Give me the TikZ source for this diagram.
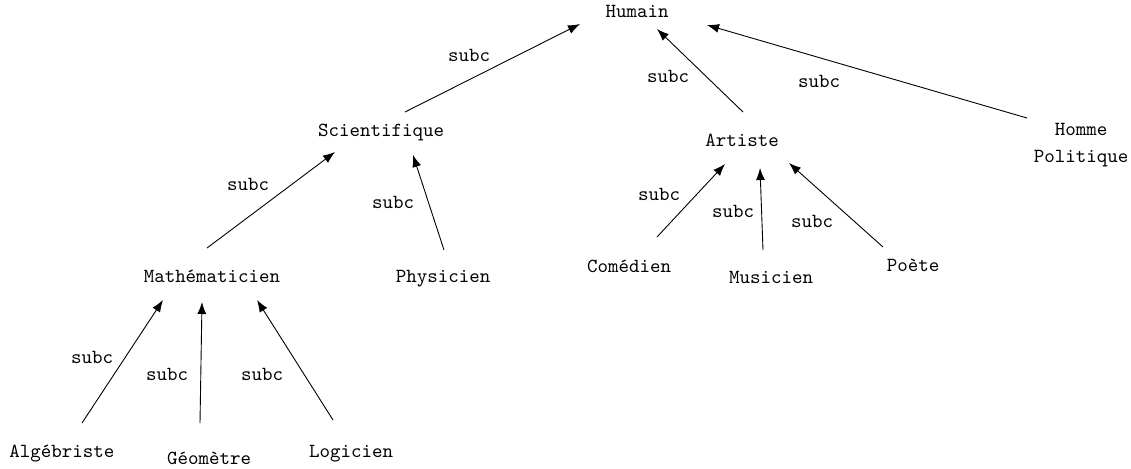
\documentclass[tikz,border=0pt]{standalone}
\usetikzlibrary{arrows.meta,calc}
\begin{document}
\begin{tikzpicture}[x=0.5pt,y=-0.5pt,
  concept/.style={font=\ttfamily, inner sep=0pt, anchor=base},
  lbl/.style={font=\ttfamily, inner sep=0pt, anchor=base},
  arr/.style={-{Latex[length=6pt,width=4.5pt]}, line width=0.45pt}]
\useasboundingbox (0,0) rectangle (1131,468);
% concepts
\node[concept] (hum) at (637,17) {Humain};
\node[concept] (sci) at (381,136) {Scientifique};
\node[concept] (art) at (742,146) {Artiste};
\node[font=\ttfamily, inner sep=0pt, align=center, anchor=center] (hp) at (1081,145) {Homme\\[1.5pt]Politique};
\node[concept] (mat) at (212,282) {Mathématicien};
\node[concept] (phy) at (443,282) {Physicien};
\node[concept] (com) at (629,272) {Comédien};
\node[concept] (mus) at (771,283) {Musicien};
\node[concept] (poe) at (913,271) {Poète};
\node[concept] (alg) at (62,457) {Algébriste};
\node[concept] (geo) at (209,464) {Géomètre};
\node[concept] (log) at (351,457) {Logicien};
% connectors
\draw[arr] ($(sci.base)+(24,-24)$) -- ($(hum.base)+(-57,7)$);
\draw[arr] ($(art.base)+(1,-34)$) -- ($(hum.base)+(20,12)$);
\draw[arr] ($(hp.center)+(-54,-27)$) -- ($(hum.base)+(70,8)$);
\draw[arr] ($(mat.base)+(-5,-34)$) -- ($(sci.base)+(-46,16)$);
\draw[arr] ($(phy.base)+(1,-32)$) -- ($(sci.base)+(32,19)$);
\draw[arr] ($(com.base)+(28,-35)$) -- ($(art.base)+(-17,18)$);
\draw[arr] ($(mus.base)+(-8,-33)$) -- ($(art.base)+(18,22)$);
\draw[arr] ($(poe.base)+(-30,-24)$) -- ($(art.base)+(47,17)$);
\draw[arr] ($(alg.base)+(20,-34)$) -- ($(mat.base)+(-49,18)$);
\draw[arr] ($(geo.base)+(-9,-41)$) -- ($(mat.base)+(-10,20)$);
\draw[arr] ($(log.base)+(-18,-37)$) -- ($(mat.base)+(45,18)$);
% labels
\node[lbl] (l1) at (469,61) {subc};
\node[lbl] (l2) at (668,82) {subc};
\node[lbl] (l3) at (819,87) {subc};
\node[lbl] (l4) at (248,190) {subc};
\node[lbl] (l5) at (393,208) {subc};
\node[lbl] (l6) at (659,200) {subc};
\node[lbl] (l7) at (733,217) {subc};
\node[lbl] (l8) at (812,227) {subc};
\node[lbl] (l9) at (92,363) {subc};
\node[lbl] (l10) at (167,380) {subc};
\node[lbl] (l11) at (262,380) {subc};
\end{tikzpicture}
\end{document}
